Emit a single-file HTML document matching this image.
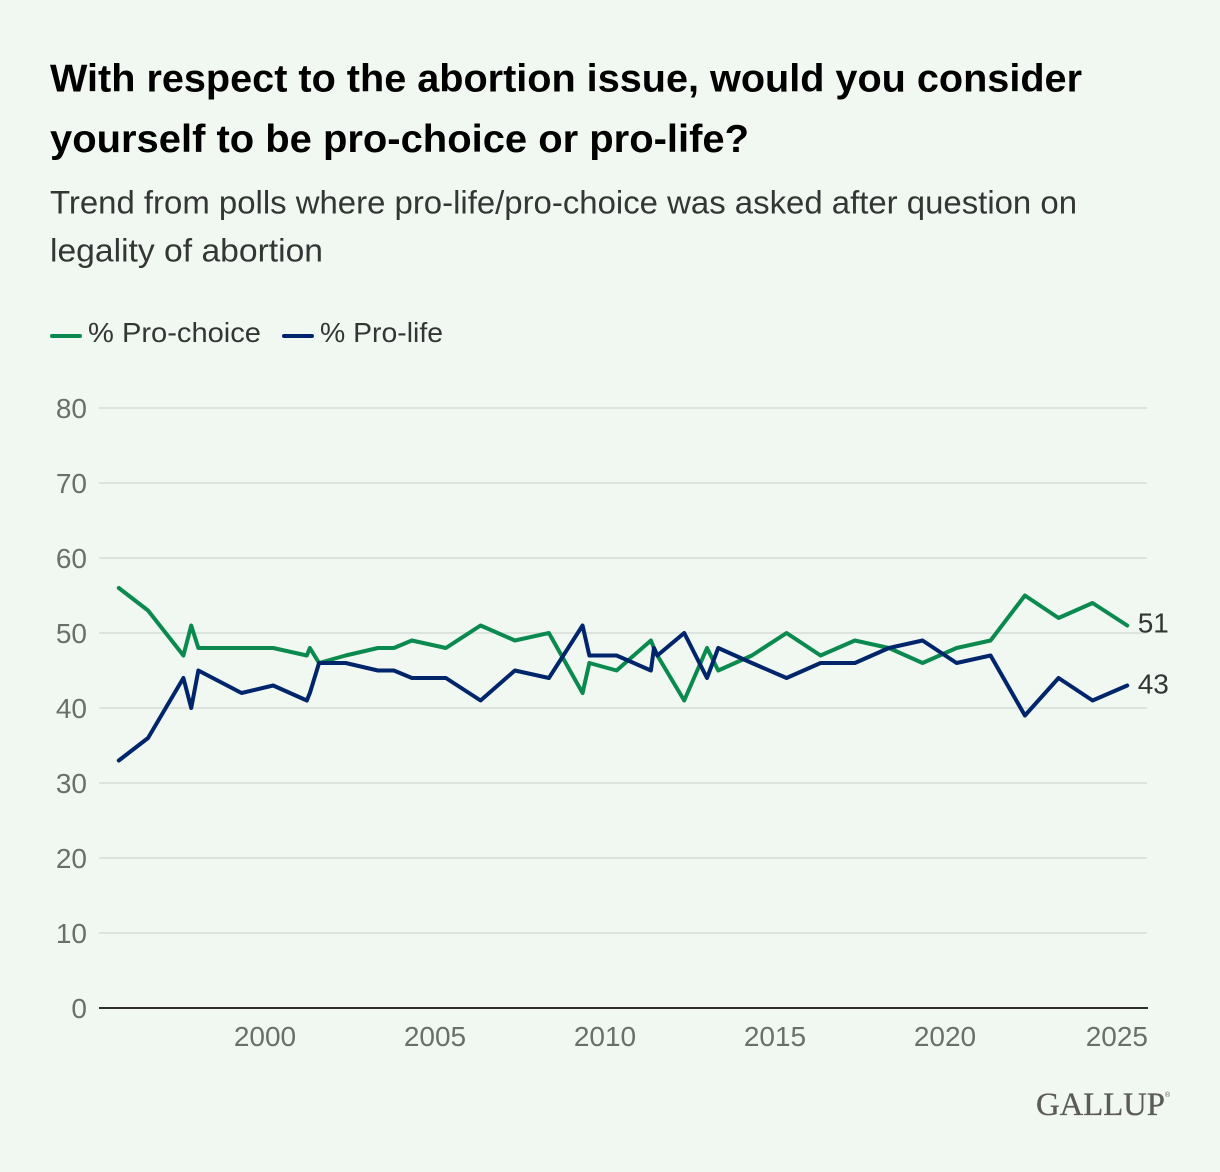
<!DOCTYPE html>
<html lang="en">
<head>
<meta charset="utf-8">
<title>Pro-choice or pro-life trend</title>
<style>
  html, body { margin: 0; padding: 0; background: #f1f8f1; }
  svg { display: block; }
  text { font-family: "Liberation Sans", sans-serif; }
</style>
</head>
<body>
<svg id="chart" xmlns="http://www.w3.org/2000/svg" width="1220" height="1172" viewBox="0 0 1220 1172">
  <rect x="0" y="0" width="1220" height="1172" fill="#f1f8f1"/>
  <g font-weight="700" font-size="38.5" fill="#000000">
    <text x="50" y="91.5" textLength="1032" lengthAdjust="spacingAndGlyphs">With respect to the abortion issue, would you consider</text>
    <text x="50" y="152" textLength="699" lengthAdjust="spacingAndGlyphs">yourself to be pro-choice or pro-life?</text>
  </g>
  <g font-size="32" fill="#333635">
    <text x="50" y="213.5" textLength="1027" lengthAdjust="spacingAndGlyphs">Trend from polls where pro-life/pro-choice was asked after question on</text>
    <text x="50" y="261.5" textLength="273" lengthAdjust="spacingAndGlyphs">legality of abortion</text>
  </g>
  <g font-size="27.5" fill="#333635">
    <line x1="52" y1="336" x2="80" y2="336" stroke="#0a8a4e" stroke-width="4" stroke-linecap="round"/>
    <text x="88" y="342" textLength="173" lengthAdjust="spacingAndGlyphs">% Pro-choice</text>
    <line x1="284" y1="336" x2="312" y2="336" stroke="#00256b" stroke-width="4" stroke-linecap="round"/>
    <text x="320" y="342" textLength="123" lengthAdjust="spacingAndGlyphs">% Pro-life</text>
  </g>
  <g id="grid"></g>
  <g id="yticks" font-size="28" fill="#6b6f6c" text-anchor="end"></g>
  <g id="xticks" font-size="28" fill="#6b6f6c"></g>
  <line x1="99" y1="1008" x2="1148" y2="1008" stroke="#2f302f" stroke-width="2"/>
  <g id="series"></g>
  <g id="endlabels" font-size="28" fill="#333635"></g>
  <g fill="#5b5b59">
    <text x="1036" y="1115" font-size="33" textLength="129" lengthAdjust="spacingAndGlyphs" stroke="#5b5b59" stroke-width="0.3" style="font-family:'Liberation Serif',serif">GALLUP</text>
    <text x="1165" y="1097" font-size="7" style="font-family:'Liberation Sans',sans-serif">®</text>
  </g>
</svg>
<script>
const years = [1995.70,1996.56,1997.60,1997.83,1998.04,1999.31,2000.24,2001.23,2001.32,2001.59,2002.37,2003.32,2003.79,2004.32,2005.32,2006.34,2007.35,2008.35,2009.34,2009.54,2010.34,2011.35,2011.44,2011.54,2012.33,2013.00,2013.33,2014.32,2015.34,2016.34,2017.35,2018.35,2019.34,2020.34,2021.34,2022.35,2023.34,2024.34,2025.36];
const proChoice = [56,53,47,51,48,48,48,47,48,46,47,48,48,49,48,51,49,50,42,46,45,49,48,47,41,48,45,47,50,47,49,48,46,48,49,55,52,54,51];
const proLife = [33,36,44,40,45,42,43,41,42,46,46,45,45,44,44,41,45,44,51,47,47,45,48,47,50,44,48,46,44,46,46,48,49,46,47,39,44,41,43];
const yTicks = [0,10,20,30,40,50,60,70,80];
const xTicks = [2000,2005,2010,2015,2020,2025];

const NS = 'http://www.w3.org/2000/svg';
function xScale(year) { return 265 + (year - 2000) * 34; }
function yScale(value) { return 1008 - value * 7.5; }

const grid = document.getElementById('grid');
const yLabels = document.getElementById('yticks');
const xLabels = document.getElementById('xticks');
const seriesGroup = document.getElementById('series');
const endLabels = document.getElementById('endlabels');

yTicks.forEach(function (tick) {
  if (tick !== 0) {
    const line = document.createElementNS(NS, 'line');
    
    
    line.setAttribute('x1', 99);
    line.setAttribute('x2', 1147);
    line.setAttribute('y1', yScale(tick));
    line.setAttribute('y2', yScale(tick));
    line.setAttribute('stroke', '#dde3dd');
    line.setAttribute('stroke-width', 2);
    grid.appendChild(line);
  }
  const label = document.createElementNS(NS, 'text');
  
  
  label.setAttribute('x', 87);
  label.setAttribute('y', yScale(tick) + 10);
  label.textContent = String(tick);
  yLabels.appendChild(label);
});

xTicks.forEach(function (tick, i) {
  const label = document.createElementNS(NS, 'text');
  
  
  const last = i === xTicks.length - 1;
  label.setAttribute('x', last ? 1148 : xScale(tick));
  label.setAttribute('y', 1046);
  label.setAttribute('text-anchor', last ? 'end' : 'middle');
  label.textContent = String(tick);
  xLabels.appendChild(label);
});

function pathFor(values) {
  return values.map(function (v, i) {
    return (i ? 'L' : 'M') + xScale(years[i]).toFixed(2) + ' ' + yScale(v).toFixed(2);
  }).join(' ');
}

const greenPath = document.createElementNS(NS, 'path');


greenPath.setAttribute('d', pathFor(proChoice));
greenPath.setAttribute('fill', 'none');
greenPath.setAttribute('stroke', '#0a8a4e');
greenPath.setAttribute('stroke-width', 4);
greenPath.setAttribute('stroke-linejoin', 'round');
greenPath.setAttribute('stroke-linecap', 'round');
seriesGroup.appendChild(greenPath);

const bluePath = document.createElementNS(NS, 'path');


bluePath.setAttribute('d', pathFor(proLife));
bluePath.setAttribute('fill', 'none');
bluePath.setAttribute('stroke', '#00256b');
bluePath.setAttribute('stroke-width', 4);
bluePath.setAttribute('stroke-linejoin', 'round');
bluePath.setAttribute('stroke-linecap', 'round');
seriesGroup.appendChild(bluePath);

const lastIndex = years.length - 1;

const greenEnd = document.createElementNS(NS, 'text');


greenEnd.setAttribute('x', xScale(years[lastIndex]) + 10.5);
greenEnd.setAttribute('y', yScale(proChoice[lastIndex]) + 7);
greenEnd.textContent = String(proChoice[lastIndex]);
endLabels.appendChild(greenEnd);

const blueEnd = document.createElementNS(NS, 'text');


blueEnd.setAttribute('x', xScale(years[lastIndex]) + 10.5);
blueEnd.setAttribute('y', yScale(proLife[lastIndex]) + 8);
blueEnd.textContent = String(proLife[lastIndex]);
endLabels.appendChild(blueEnd);
</script>
</body>
</html>
